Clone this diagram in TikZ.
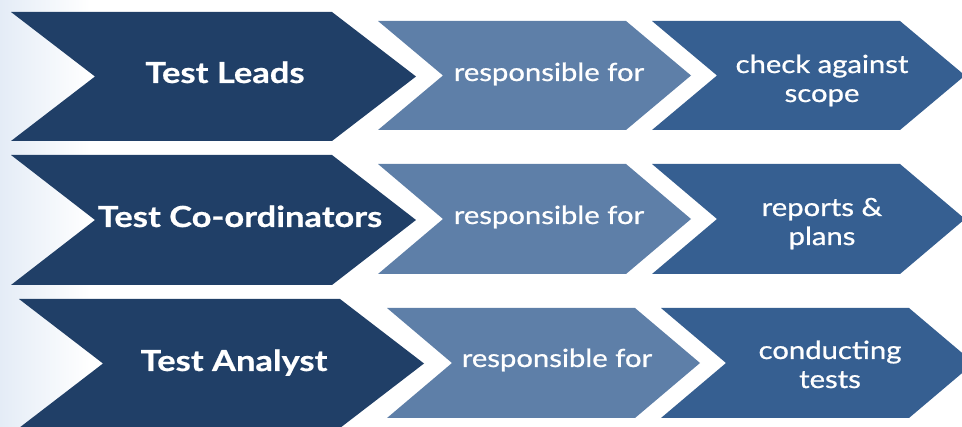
\documentclass[tikz,border=0pt]{standalone}
\usepackage{fontspec}
\setmainfont{Lato}
\newfontfamily\bigfont[FakeStretch=1.19,FakeBold=0.6]{Lato Bold}
\newfontfamily\medfont[FakeStretch=1.17,FakeBold=0.8]{Lato}
\definecolor{navy}{RGB}{32,63,103}
\definecolor{midblue}{RGB}{94,127,168}
\definecolor{stblue}{RGB}{54,95,145}
\definecolor{bgblue}{RGB}{228,236,246}
\newcommand\chevshape[6]{%
  \fill[#6] (#1,#2) -- (#4,#2) -- ({#4+#5},{(#2+#3)/2}) -- (#4,#3) -- (#1,#3) -- ({#1+#5},{(#2+#3)/2}) -- cycle;}
\tikzset{
  bigtxt/.style={text=white, font=\bigfont\fontsize{29}{30}\selectfont, anchor=base, inner sep=0pt},
  smtxt/.style={text=white, font=\medfont\fontsize{25}{30}\selectfont, anchor=base, inner sep=0pt},
}
\begin{document}
\begin{tikzpicture}[x=1pt,y=-1pt]
\useasboundingbox (0,0) rectangle (962,427);
\shade[left color=bgblue, right color=white] (0,0) rectangle (90,427);
% row 1
\chevshape{11}{12}{141}{332}{84}{navy}
\chevshape{378}{21}{130}{626}{65}{midblue}
\chevshape{652}{21}{130}{900}{65}{stblue}
\node[bigtxt] (a1) at (225,83) {Test Leads};
\node[smtxt] (b1) at (549,81) {responsible for};
\node[smtxt] (c1a) at (822,73) {check against};
\node[smtxt] (c1b) at (822,102) {scope};
% row 2
\chevshape{11}{155}{285}{332}{84}{navy}
\chevshape{378}{164}{274}{626}{65}{midblue}
\chevshape{652}{164}{274}{900}{65}{stblue}
\node[bigtxt] (a2) at (240,227) {Test Co-ordinators};
\node[smtxt] (b2) at (549,224) {responsible for};
\node[smtxt] (c2a) at (822,216) {reports \&};
\node[smtxt] (c2b) at (822,245) {plans};
% row 3
\chevshape{19}{299}{428}{340}{84}{navy}
\chevshape{387}{308}{418}{635}{65}{midblue}
\chevshape{661}{308}{418}{909}{65}{stblue}
\node[bigtxt] (a3) at (234,371) {Test Analyst};
\node[smtxt] (b3) at (557,367) {responsible for};
\node[smtxt] (c3a) at (830,359) {conducting};
\node[smtxt] (c3b) at (830,388) {tests};
\end{tikzpicture}
\end{document}
